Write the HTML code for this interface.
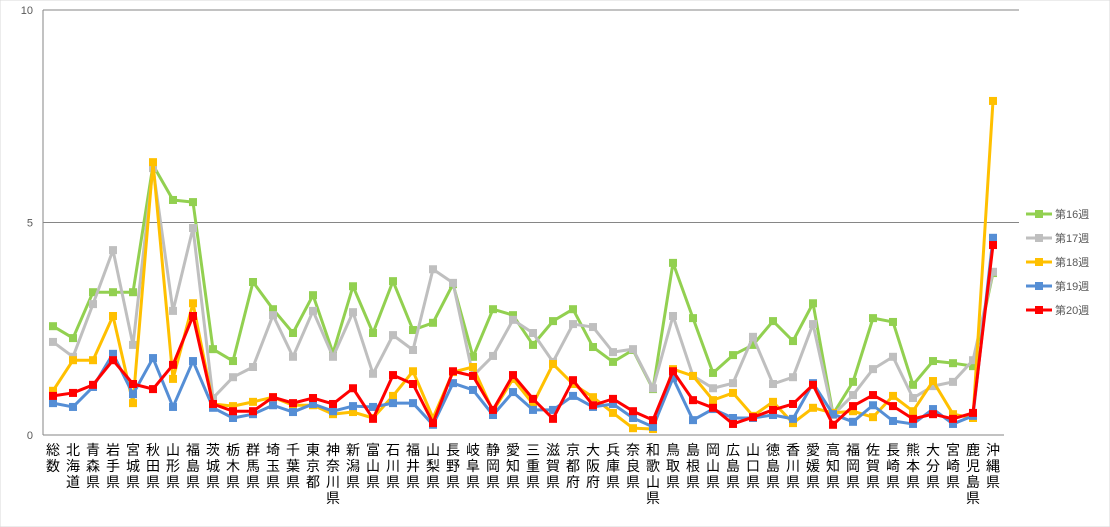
<!DOCTYPE html>
<html><head><meta charset="utf-8"><style>
body{margin:0;background:#fff;}
svg{display:block;font-family:"Liberation Sans","Noto Sans CJK JP",sans-serif;}
</style></head><body>
<svg id="chart" width="1110" height="527" viewBox="0 0 1110 527" xmlns="http://www.w3.org/2000/svg">
<rect x="0" y="0" width="1110" height="527" fill="#fff" stroke="#d9d9d9"/>
<g id="grid"></g>
<g id="yticks"></g>
<g id="xlabels"></g>
<g id="series"></g>
<g id="legend"></g>
</svg>
<script>
const categories=["総数","北海道","青森県","岩手県","宮城県","秋田県","山形県","福島県","茨城県","栃木県","群馬県","埼玉県","千葉県","東京都","神奈川県","新潟県","富山県","石川県","福井県","山梨県","長野県","岐阜県","静岡県","愛知県","三重県","滋賀県","京都府","大阪府","兵庫県","奈良県","和歌山県","鳥取県","島根県","岡山県","広島県","山口県","徳島県","香川県","愛媛県","高知県","福岡県","佐賀県","長崎県","熊本県","大分県","宮崎県","鹿児島県","沖縄県"];
const seriesNames=["第16週","第17週","第18週","第19週","第20週"];
const seriesColors=["#92d050","#bfbfbf","#ffc000","#558ed5","#ff0000"];
const week16=[2.56,2.28,3.36,3.36,3.36,6.35,5.53,5.48,2.02,1.74,3.6,2.96,2.4,3.29,1.93,3.5,2.4,3.62,2.47,2.64,3.55,1.84,2.96,2.82,2.12,2.68,2.96,2.07,1.72,2.0,1.08,4.05,2.75,1.46,1.88,2.12,2.68,2.21,3.1,0.49,1.25,2.75,2.66,1.18,1.74,1.69,1.62,3.81];
const week17=[2.19,1.84,3.08,4.35,2.12,6.28,2.92,4.87,0.87,1.36,1.6,2.82,1.84,2.92,1.84,2.89,1.44,2.35,2.0,3.9,3.58,1.39,1.86,2.71,2.4,1.72,2.61,2.54,1.95,2.02,1.1,2.8,1.39,1.1,1.22,2.31,1.2,1.36,2.61,0.47,0.94,1.55,1.84,0.87,1.15,1.25,1.76,3.84];
const week18=[1.04,1.76,1.76,2.8,0.75,6.42,1.32,3.1,0.73,0.68,0.78,0.89,0.7,0.7,0.49,0.54,0.4,0.92,1.5,0.4,1.48,1.6,0.56,1.32,0.73,1.67,1.2,0.89,0.52,0.16,0.14,1.55,1.39,0.82,0.99,0.45,0.78,0.28,0.64,0.52,0.56,0.42,0.92,0.56,1.27,0.49,0.4,7.86];
const week19=[0.75,0.66,1.13,1.91,0.96,1.81,0.66,1.74,0.64,0.4,0.49,0.7,0.54,0.73,0.56,0.68,0.66,0.75,0.75,0.24,1.22,1.06,0.47,1.01,0.59,0.59,0.92,0.66,0.73,0.4,0.19,1.34,0.35,0.61,0.4,0.4,0.47,0.38,1.22,0.49,0.31,0.7,0.33,0.26,0.61,0.26,0.45,4.64];
const week20=[0.92,0.99,1.18,1.76,1.2,1.08,1.65,2.8,0.73,0.56,0.56,0.89,0.75,0.87,0.73,1.1,0.38,1.41,1.2,0.28,1.5,1.39,0.59,1.41,0.85,0.38,1.29,0.7,0.85,0.56,0.35,1.5,0.82,0.64,0.26,0.42,0.59,0.73,1.18,0.24,0.68,0.94,0.68,0.38,0.49,0.38,0.52,4.47];
const yTicks=[0,5,10];
const allSeries=[week16,week17,week18,week19,week20];

const NS="http://www.w3.org/2000/svg";
const plotL=43,plotR=1019,plotT=10,plotB=435,yMax=10;
const xScale=i=>53+i*20;
const yScale=v=>plotB-(v/yMax)*(plotB-plotT);
function mk(tag,attrs,parent){const e=document.createElementNS(NS,tag);for(const k in attrs)e.setAttribute(k,attrs[k]);parent.appendChild(e);return e;}

const grid=document.getElementById('grid');
yTicks.forEach(t=>{
  const l=mk('line',{x1:plotL,x2:t===0?1004:plotR,y1:yScale(t),y2:yScale(t),stroke:'#868686','stroke-width':1},grid);
  
  
});
const ax=mk('line',{x1:plotL,x2:plotL,y1:plotT,y2:plotB,stroke:'#868686','stroke-width':1},grid);



const yt=document.getElementById('yticks');
yTicks.forEach(t=>{
  const tx=mk('text',{x:33,y:yScale(t)+4,'text-anchor':'end','font-size':11,fill:'#595959'},yt);
  tx.textContent=t;
  
  
});

const xl=document.getElementById('xlabels');
categories.forEach((c,i)=>{
  const tx=mk('text',{'font-size':14,fill:'#000','text-anchor':'middle'},xl);
  
  
  [...c].forEach((ch,j)=>{const s=mk('tspan',{x:xScale(i),y:455+j*16},tx);s.textContent=ch;});
});

const sg=document.getElementById('series');
allSeries.forEach((vals,si)=>{
  const g=mk('g',{},sg);
  
  
  const pts=vals.map((v,i)=>xScale(i)+','+yScale(v)).join(' ');
  const pl=mk('polyline',{points:pts,fill:'none',stroke:seriesColors[si],'stroke-width':3,'stroke-linejoin':'round'},g);
  
  
  vals.forEach((v,i)=>{
    const r=mk('rect',{x:xScale(i)-4,y:yScale(v)-4,width:8,height:8,fill:seriesColors[si]},g);
    
    
  });
});

const lg=document.getElementById('legend');
seriesNames.forEach((n,i)=>{
  const y=214+i*24;
  const g=mk('g',{},lg);
  
  
  mk('line',{x1:1026,x2:1052,y1:y,y2:y,stroke:seriesColors[i],'stroke-width':3},g);
  mk('rect',{x:1035,y:y-4,width:8,height:8,fill:seriesColors[i]},g);
  const t=mk('text',{x:1055,y:y+4,'font-size':11,fill:'#595959'},g);
  t.textContent=n;
});
</script>
</body></html>
